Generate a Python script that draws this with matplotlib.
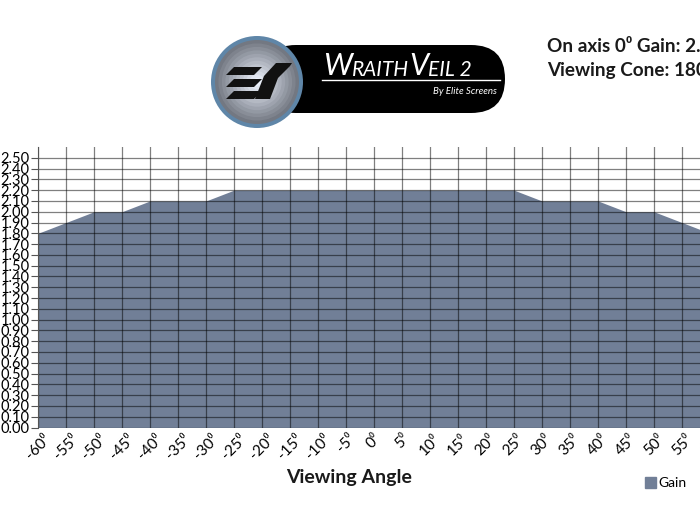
import numpy as np
import matplotlib.pyplot as plt
import matplotlib.transforms as mtransforms
from matplotlib.patches import Circle, FancyBboxPatch, Polygon, Patch

plt.rcParams['font.family'] = ['Lato', 'DejaVu Sans']

# data
angles = [-60, -55, -50, -45, -40, -35, -30, -25, -20, -15, -10, -5, 0,
          5, 10, 15, 20, 25, 30, 35, 40, 45, 50, 55, 60]
gain = [1.8, 1.9, 2.0, 2.0, 2.1, 2.1, 2.1, 2.2, 2.2, 2.2, 2.2, 2.2, 2.2,
        2.2, 2.2, 2.2, 2.2, 2.2, 2.1, 2.1, 2.1, 2.0, 2.0, 1.9, 1.8]
y_ticks = [round(0.1 * i, 2) for i in range(26)]
x_tick_labels = [f"{a}\u2070" for a in angles]

fill_col = '#717f97'

fig = plt.figure(figsize=(7, 5.18), dpi=100)
# axes run past the right edge like the cropped original
ax = fig.add_axes([38 / 700, 90.5 / 518, 672 / 700, 280.5 / 518])
ax.fill_between(angles, gain, 0, color=fill_col, lw=0, zorder=1)
ax.set_xlim(-60, 60)
ax.set_ylim(0, 2.6)
ax.set_yticks(y_ticks)
ax.set_yticklabels([f"{v:.2f}" for v in y_ticks], fontsize=10.5)
ax.set_xticks(angles)
ax.set_xticklabels(x_tick_labels, fontsize=11, rotation=45, ha='center', va='top')
offset = mtransforms.ScaledTranslation(6 / 100, 0, fig.dpi_scale_trans)
for lab in ax.get_xticklabels():
    lab.set_transform(lab.get_transform() + offset)
ax.tick_params(axis='x', length=0, pad=3)
ax.tick_params(axis='y', length=5, width=0.8, color='#555555', pad=1)
for s in ['top', 'right', 'bottom']:
    ax.spines[s].set_visible(False)
ax.spines['left'].set_color('#555555')
ax.spines['left'].set_linewidth(0.8)
for y in y_ticks:
    ax.axhline(y, color='black', alpha=0.5, lw=0.9, zorder=2)
for a in angles:
    ax.axvline(a, color='black', alpha=0.5, lw=0.9, zorder=2)
ax.set_facecolor('none')

fig.text(349 / 700, 1 - 477 / 518, 'Viewing Angle', fontsize=14, fontweight='bold',
         ha='center', va='center', color='#1a1a1a')

fig.legend(handles=[Patch(color=fill_col)], labels=['Gain'], loc='center left',
           bbox_to_anchor=(638 / 700, 1 - 483 / 518), frameon=False, fontsize=10,
           handlelength=0.8, handleheight=0.8, handletextpad=0.2, borderpad=0)

fig.text(547 / 700, 1 - 46 / 518, 'On axis 0\u2070 Gain: 2.2', fontsize=13.6,
         fontweight='bold', ha='left', va='center', color='#1a1a1a')
fig.text(547 / 700, 1 - 69 / 518, 'Viewing Cone: 180\u2070', fontsize=13.6,
         fontweight='bold', ha='left', va='center', color='#1a1a1a')

# logo, drawn in pixel coordinates
lg = fig.add_axes([0, 0, 1, 1], zorder=5)
lg.set_xlim(0, 700)
lg.set_ylim(518, 0)
lg.axis('off')
lg.add_patch(FancyBboxPatch((262, 45), 243, 68, boxstyle='round,pad=0,rounding_size=34',
                            fc='black', ec='none'))
lg.add_patch(Circle((257, 82), 46, fc='#5f86a8', ec='none'))
for r, c in zip(np.linspace(42, 4, 12), np.linspace(0.45, 0.92, 12)):
    lg.add_patch(Circle((257, 82), r, fc=(c, c + 0.02, min(c + 0.06, 1)), ec='none'))
for yb in [67, 79, 91]:
    lg.add_patch(Polygon([(226, yb + 8), (234, yb), (262, yb), (254, yb + 8)], fc='#111111'))
lg.add_patch(Polygon([(255, 99), (270, 99), (278, 78), (290, 66), (292, 63), (276, 63),
                      (264, 76)], fc='#111111'))

# small caps title built piece by piece
pieces = [('W', 22), ('RAITH', 15), ('V', 22), ('EIL 2', 15)]
prev = lg.text(323, 75, pieces[0][0], fontsize=pieces[0][1], style='italic',
               color='white', ha='left', va='baseline')
for txt, fs in pieces[1:]:
    prev = lg.annotate(txt, xy=(1, 0), xycoords=prev, fontsize=fs, style='italic',
                       color='white', ha='left', va='bottom')
lg.plot([322, 500], [80, 80], color='white', lw=1)
lg.text(497, 92, 'By Elite Screens', fontsize=7, style='italic', color='white',
        ha='right', va='center')

fig.savefig('out.png', dpi=100)
